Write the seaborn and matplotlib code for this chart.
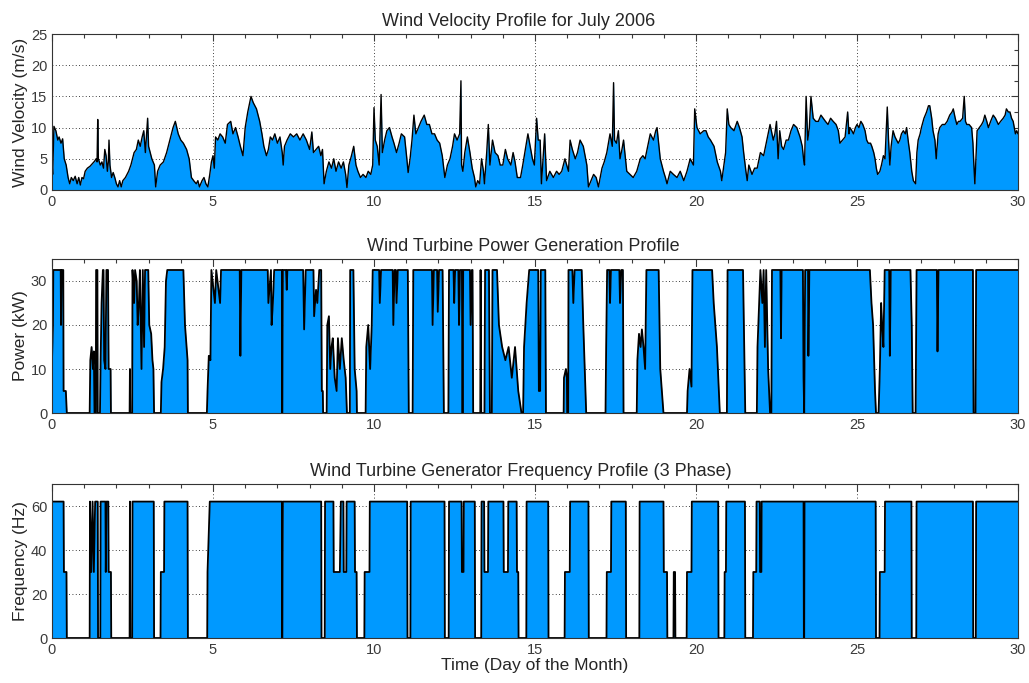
import matplotlib
matplotlib.use("Agg")
import matplotlib.pyplot as plt
from matplotlib.ticker import MultipleLocator
import numpy as np
import pandas as pd
import seaborn as sns

# ---------------- data ----------------
wind_day = [
    0.00, 0.02, 0.06, 0.12, 0.18, 0.22, 0.28, 0.33, 0.38, 0.44, 0.50, 0.55, 0.60, 0.66, 0.72, 0.78,
    0.83, 0.88, 0.93, 0.98, 1.03, 1.10, 1.18, 1.25, 1.32, 1.37, 1.40, 1.42, 1.44, 1.50, 1.55, 1.60,
    1.64, 1.68, 1.72, 1.75, 1.77, 1.80, 1.85, 1.90, 1.95, 2.00, 2.05, 2.10, 2.15, 2.20, 2.28, 2.38,
    2.45, 2.55, 2.62, 2.68, 2.74, 2.80, 2.85, 2.90, 2.97, 3.00, 3.05, 3.10, 3.18, 3.22, 3.28, 3.36,
    3.46, 3.56, 3.66, 3.76, 3.83, 3.92, 4.00, 4.08, 4.18, 4.26, 4.33, 4.40, 4.48, 4.53, 4.58, 4.66,
    4.72, 4.78, 4.84, 4.90, 4.95, 5.00, 5.04, 5.08, 5.15, 5.22, 5.30, 5.38, 5.45, 5.55, 5.62, 5.70,
    5.78, 5.85, 5.93, 6.00, 6.08, 6.18, 6.25, 6.35, 6.45, 6.52, 6.58, 6.66, 6.72, 6.78, 6.85, 6.92,
    7.00, 7.08, 7.15, 7.18, 7.22, 7.30, 7.40, 7.50, 7.60, 7.70, 7.80, 7.90, 8.00, 8.07, 8.12, 8.20,
    8.28, 8.35, 8.40, 8.45, 8.52, 8.60, 8.68, 8.75, 8.82, 8.90, 8.98, 9.05, 9.12, 9.16, 9.22, 9.30,
    9.37, 9.44, 9.50, 9.58, 9.66, 9.75, 9.82, 9.90, 9.96, 10.00, 10.04, 10.10, 10.16, 10.22, 10.26, 10.33,
    10.40, 10.48, 10.56, 10.62, 10.70, 10.78, 10.85, 10.95, 11.02, 11.06, 11.12, 11.18, 11.24, 11.30, 11.38, 11.46,
    11.56, 11.64, 11.72, 11.80, 11.88, 11.96, 12.04, 12.12, 12.20, 12.28, 12.36, 12.44, 12.50, 12.58, 12.66, 12.70,
    12.72, 12.76, 12.82, 12.90, 12.98, 13.05, 13.12, 13.16, 13.22, 13.28, 13.34, 13.40, 13.43, 13.50, 13.55, 13.60,
    13.68, 13.76, 13.85, 13.92, 14.00, 14.08, 14.15, 14.25, 14.32, 14.38, 14.45, 14.55, 14.62, 14.70, 14.78, 14.85,
    14.92, 14.98, 15.05, 15.10, 15.16, 15.20, 15.25, 15.30, 15.36, 15.46, 15.57, 15.67, 15.75, 15.83, 15.93, 16.04,
    16.09, 16.16, 16.25, 16.32, 16.40, 16.50, 16.61, 16.66, 16.74, 16.82, 16.90, 16.97, 17.08, 17.15, 17.23, 17.33,
    17.40, 17.44, 17.47, 17.53, 17.59, 17.64, 17.70, 17.75, 17.85, 17.95, 18.05, 18.16, 18.27, 18.35, 18.42, 18.50,
    18.58, 18.68, 18.75, 18.79, 18.85, 18.89, 18.99, 19.05, 19.10, 19.20, 19.30, 19.41, 19.51, 19.62, 19.72, 19.82,
    19.92, 19.96, 20.03, 20.13, 20.24, 20.31, 20.38, 20.45, 20.56, 20.66, 20.76, 20.80, 20.92, 20.97, 21.02, 21.08,
    21.18, 21.28, 21.35, 21.43, 21.48, 21.55, 21.59, 21.64, 21.74, 21.82, 21.90, 22.00, 22.10, 22.20, 22.30, 22.40,
    22.45, 22.50, 22.55, 22.60, 22.66, 22.72, 22.80, 22.87, 22.95, 23.03, 23.13, 23.23, 23.30, 23.34, 23.37, 23.42,
    23.47, 23.52, 23.57, 23.64, 23.72, 23.80, 23.88, 23.95, 24.02, 24.10, 24.18, 24.26, 24.35, 24.42, 24.47, 24.55,
    24.63, 24.71, 24.75, 24.78, 24.84, 24.89, 24.95, 25.00, 25.06, 25.12, 25.18, 25.25, 25.30, 25.35, 25.42, 25.46,
    25.52, 25.56, 25.60, 25.64, 25.71, 25.76, 25.82, 25.87, 25.94, 25.98, 26.02, 26.06, 26.12, 26.18, 26.23, 26.28,
    26.33, 26.38, 26.44, 26.50, 26.54, 26.60, 26.64, 26.70, 26.75, 26.82, 26.86, 26.90, 26.96, 27.00, 27.08, 27.16,
    27.22, 27.26, 27.32, 27.36, 27.42, 27.46, 27.52, 27.57, 27.65, 27.73, 27.80, 27.88, 27.95, 27.99, 28.05, 28.10,
    28.15, 28.20, 28.28, 28.33, 28.37, 28.41, 28.48, 28.56, 28.60, 28.63, 28.66, 28.70, 28.73, 28.80, 28.87, 28.92,
    28.97, 29.03, 29.08, 29.15, 29.23, 29.30, 29.39, 29.46, 29.54, 29.60, 29.64, 29.70, 29.75, 29.80, 29.85, 29.92,
    29.96, 30.00,
]
wind_speed = [
    4.5, 2.5, 10.2, 9.5, 8.0, 8.5, 7.5, 8.2, 5.0, 4.0, 2.0, 1.0, 2.0, 1.5, 2.2, 1.0,
    2.0, 0.8, 2.0, 1.8, 3.0, 3.5, 3.8, 4.2, 4.6, 5.0, 4.5, 11.3, 5.0, 4.0, 4.5, 3.5,
    6.5, 5.5, 3.0, 4.5, 8.0, 4.0, 2.0, 2.8, 2.0, 1.0, 0.5, 1.5, 0.5, 1.5, 2.0, 3.0,
    4.0, 6.0, 6.5, 8.0, 7.0, 8.5, 9.5, 6.0, 11.5, 7.0, 6.0, 5.0, 4.0, 0.5, 3.0, 4.0,
    4.5, 6.0, 8.0, 10.0, 11.0, 9.0, 8.0, 7.5, 6.5, 5.0, 2.0, 1.5, 1.0, 1.5, 0.5, 1.5,
    2.0, 1.0, 0.5, 2.5, 4.5, 5.5, 3.5, 8.5, 8.0, 9.0, 8.5, 7.5, 10.5, 11.0, 9.0, 10.0,
    8.5, 7.0, 5.5, 10.0, 12.5, 15.0, 14.0, 13.0, 11.0, 9.0, 7.0, 5.5, 6.5, 8.5, 8.0, 9.0,
    7.5, 8.5, 6.0, 4.0, 7.0, 8.0, 9.0, 8.5, 9.0, 8.0, 9.0, 8.0, 6.5, 9.3, 6.0, 6.5,
    7.0, 5.5, 6.5, 1.0, 3.0, 4.5, 3.5, 5.0, 3.0, 4.5, 3.5, 4.5, 2.5, 0.4, 4.0, 5.5,
    7.0, 4.0, 3.0, 2.0, 2.5, 2.0, 3.0, 2.5, 4.0, 13.2, 8.0, 7.0, 4.0, 15.3, 6.0, 8.0,
    9.5, 10.0, 8.5, 7.5, 6.0, 7.5, 9.0, 8.5, 5.0, 2.8, 5.0, 8.0, 12.0, 9.0, 10.0, 11.0,
    12.0, 10.5, 10.5, 9.0, 9.0, 8.0, 7.5, 5.5, 2.0, 4.0, 5.0, 7.0, 9.0, 8.0, 9.0, 17.5,
    4.0, 3.0, 6.0, 8.5, 6.0, 3.5, 2.0, 0.5, 1.5, 1.0, 5.0, 3.0, 1.0, 6.0, 10.5, 4.0,
    8.0, 6.0, 5.5, 4.0, 4.0, 6.5, 5.0, 4.0, 6.0, 4.5, 2.0, 2.0, 4.0, 6.5, 9.0, 7.0,
    5.0, 4.0, 11.5, 8.0, 8.0, 1.0, 5.0, 9.0, 1.5, 3.0, 2.0, 3.0, 2.5, 3.0, 5.0, 3.0,
    8.0, 6.5, 5.0, 6.0, 8.0, 7.0, 4.0, 0.5, 1.5, 2.5, 2.0, 0.5, 3.5, 4.5, 6.0, 9.0,
    7.0, 17.2, 8.0, 7.5, 9.5, 5.0, 6.5, 8.0, 3.0, 2.5, 2.0, 3.0, 5.0, 5.5, 5.0, 7.0,
    9.0, 8.0, 9.5, 10.0, 7.0, 5.0, 3.0, 2.0, 1.0, 3.0, 2.5, 2.0, 3.0, 1.5, 3.0, 5.0,
    4.0, 13.0, 10.0, 9.0, 9.5, 9.5, 8.5, 8.0, 7.0, 4.5, 3.0, 1.5, 6.0, 13.0, 10.5, 10.0,
    9.5, 11.0, 10.0, 8.5, 6.0, 3.0, 1.5, 4.0, 2.5, 3.5, 3.5, 6.0, 5.5, 8.0, 10.5, 8.0,
    9.0, 11.0, 5.0, 9.5, 7.0, 6.5, 8.0, 8.0, 9.5, 10.5, 10.0, 8.5, 7.0, 5.0, 4.0, 15.0,
    8.0, 10.0, 15.0, 11.5, 11.0, 11.0, 12.0, 11.5, 11.0, 10.5, 11.5, 11.0, 10.5, 9.5, 7.5, 8.0,
    8.5, 12.5, 9.0, 10.0, 9.5, 9.0, 10.0, 10.5, 10.0, 11.0, 10.5, 9.5, 8.0, 7.5, 7.5, 7.0,
    6.0, 5.0, 3.5, 2.5, 3.0, 4.0, 5.5, 5.0, 13.3, 8.0, 4.0, 7.0, 9.5, 8.5, 8.0, 7.5,
    8.0, 9.0, 9.5, 9.0, 10.0, 7.5, 6.0, 3.0, 1.5, 1.0, 6.0, 8.0, 9.0, 10.0, 11.5, 12.5,
    13.5, 13.5, 11.5, 9.5, 8.0, 5.0, 9.0, 10.0, 10.5, 10.5, 11.0, 12.0, 12.5, 13.0, 11.5, 10.5,
    11.0, 11.0, 11.5, 15.0, 11.0, 10.5, 10.5, 10.0, 7.5, 4.0, 1.0, 6.0, 9.5, 10.0, 10.5, 11.0,
    12.0, 11.0, 10.0, 11.0, 12.0, 11.5, 10.5, 11.0, 11.5, 12.0, 13.0, 12.5, 12.5, 11.5, 11.0, 9.0,
    9.5, 9.0,
]

power_day = [
    0.00, 0.03, 0.04, 0.27, 0.28, 0.30, 0.35, 0.36, 0.43, 0.46, 1.17, 1.19, 1.23, 1.27, 1.30, 1.32,
    1.36, 1.37, 1.41, 1.42, 1.49, 1.51, 1.54, 1.58, 1.60, 1.62, 1.66, 1.69, 1.74, 1.76, 1.82, 1.83,
    2.41, 2.42, 2.43, 2.49, 2.50, 2.55, 2.58, 2.63, 2.66, 2.70, 2.73, 2.78, 2.82, 2.86, 2.89, 2.99,
    3.02, 3.08, 3.12, 3.15, 3.17, 3.38, 3.40, 3.45, 3.50, 3.54, 3.58, 4.08, 4.13, 4.18, 4.21, 4.22,
    4.81, 4.83, 4.87, 4.92, 4.95, 5.06, 5.10, 5.22, 5.25, 5.83, 5.85, 5.88, 6.70, 6.72, 6.80, 6.82,
    6.86, 6.90, 7.14, 7.15, 7.17, 7.27, 7.29, 7.31, 7.80, 7.83, 7.88, 8.12, 8.14, 8.20, 8.24, 8.30,
    8.36, 8.38, 8.41, 8.42, 8.53, 8.55, 8.60, 8.64, 8.68, 8.72, 8.78, 8.84, 8.88, 8.94, 9.00, 9.06,
    9.12, 9.16, 9.25, 9.26, 9.36, 9.40, 9.46, 9.47, 9.74, 9.76, 9.82, 9.88, 9.93, 9.96, 10.16, 10.18,
    10.22, 10.58, 10.60, 10.64, 10.68, 10.70, 10.74, 11.05, 11.08, 11.20, 11.22, 11.80, 11.82, 11.86, 11.96, 11.98,
    12.02, 12.13, 12.17, 12.31, 12.33, 12.47, 12.49, 12.52, 12.62, 12.64, 12.67, 12.73, 12.75, 12.77, 12.98, 13.00,
    13.04, 13.06, 13.08, 13.30, 13.31, 13.33, 13.43, 13.45, 13.57, 13.60, 13.66, 13.68, 13.82, 13.88, 13.98, 14.08,
    14.18, 14.28, 14.38, 14.48, 14.58, 14.63, 14.66, 14.74, 14.82, 15.10, 15.12, 15.16, 15.18, 15.32, 15.34, 15.89,
    15.90, 15.96, 15.99, 16.00, 16.03, 16.04, 16.16, 16.19, 16.23, 16.45, 16.50, 16.59, 17.19, 17.21, 17.24, 17.31,
    17.33, 17.36, 17.62, 17.64, 17.68, 17.73, 17.75, 18.16, 18.18, 18.23, 18.28, 18.32, 18.37, 18.42, 18.46, 18.84,
    18.89, 18.94, 18.99, 19.72, 19.74, 19.80, 19.86, 19.89, 20.50, 20.55, 20.65, 20.74, 20.96, 20.98, 21.46, 21.53,
    21.89, 21.91, 21.96, 22.00, 22.06, 22.10, 22.14, 22.18, 22.24, 22.30, 22.34, 22.36, 22.62, 22.64, 22.66, 23.32,
    23.34, 23.36, 23.39, 23.48, 23.49, 23.52, 25.40, 25.45, 25.50, 25.56, 25.59, 25.67, 25.71, 25.75, 25.78, 25.82,
    25.86, 26.00, 26.02, 26.05, 26.66, 26.70, 26.73, 26.82, 26.85, 27.48, 27.50, 27.53, 28.60, 28.62, 28.68, 28.70,
    30.00,
]
power_kw = [
    12, 20, 32.5, 32.5, 20, 32.5, 32.5, 5, 5, 0, 0, 12, 15, 10, 14, 0,
    0, 32.5, 32.5, 0, 0, 12, 25, 32.5, 32.5, 12, 10, 32.5, 32.5, 10, 10, 0,
    0, 10, 0, 0, 32.5, 25, 32.5, 30, 20, 25, 32.5, 10, 32.5, 15, 32.5, 32.5,
    20, 18, 12, 10, 0, 0, 7, 10, 15, 30, 32.5, 32.5, 20, 15, 12, 0,
    0, 5, 13, 12, 32.5, 25, 32.5, 25, 32.5, 32.5, 13, 32.5, 32.5, 25, 32.5, 20,
    25, 32.5, 32.5, 0, 32.5, 32.5, 28, 32.5, 32.5, 19, 32.5, 32.5, 22, 28, 25, 32.5,
    32.5, 5, 5, 0, 0, 20, 22, 10, 15, 17, 8, 5, 17, 10, 17, 12,
    8, 0, 0, 32.5, 32.5, 10, 5, 0, 0, 15, 20, 10, 20, 32.5, 32.5, 25,
    32.5, 32.5, 20, 32.5, 32.5, 25, 32.5, 32.5, 0, 0, 32.5, 32.5, 20, 32.5, 32.5, 23,
    32.5, 32.5, 0, 0, 32.5, 32.5, 25, 32.5, 32.5, 20, 32.5, 32.5, 0, 32.5, 32.5, 20,
    32.5, 32.5, 0, 0, 32.5, 0, 0, 32.5, 32.5, 0, 0, 32.5, 32.5, 20, 15, 12,
    15, 8, 15, 5, 0, 0, 15, 25, 32.5, 32.5, 5, 5, 32.5, 32.5, 0, 0,
    8, 10, 8, 0, 0, 32.5, 32.5, 25, 32.5, 32.5, 20, 0, 0, 15, 32.5, 32.5,
    25, 32.5, 32.5, 25, 32.5, 32.5, 0, 0, 12, 18, 15, 19, 15, 10, 32.5, 32.5,
    10, 5, 0, 0, 5, 10, 6, 32.5, 32.5, 25, 15, 0, 0, 32.5, 32.5, 0,
    0, 15, 25, 32.5, 25, 32.5, 15, 32.5, 10, 0, 0, 32.5, 32.5, 17, 32.5, 32.5,
    8, 0, 32.5, 32.5, 13, 32.5, 32.5, 25, 20, 5, 0, 0, 10, 25, 20, 15,
    32.5, 32.5, 13, 32.5, 32.5, 20, 0, 0, 32.5, 32.5, 14, 32.5, 32.5, 0, 0, 32.5,
    32.5,
]

freq_day = [
    0.00, 0.36, 0.37, 0.45, 0.46, 1.17, 1.18, 1.22, 1.26, 1.30, 1.34, 1.42, 1.43, 1.50, 1.51, 1.66,
    1.67, 1.69, 1.75, 1.76, 1.83, 1.84, 2.41, 2.42, 2.43, 2.49, 2.50, 3.16, 3.17, 3.37, 3.38, 3.48,
    3.49, 4.21, 4.22, 4.82, 4.83, 4.90, 7.14, 7.15, 7.17, 8.36, 8.37, 8.47, 8.48, 8.74, 8.75, 8.94,
    8.97, 9.05, 9.06, 9.14, 9.15, 9.40, 9.41, 9.46, 9.47, 9.70, 9.71, 9.86, 9.87, 11.03, 11.04, 11.13,
    11.14, 12.19, 12.20, 12.32, 12.33, 12.72, 12.73, 12.78, 12.79, 13.13, 13.14, 13.33, 13.34, 13.42, 13.43, 13.54,
    13.55, 14.02, 14.03, 14.16, 14.17, 14.43, 14.44, 14.48, 14.49, 14.73, 14.74, 15.41, 15.42, 15.92, 15.93, 16.08,
    16.09, 16.66, 16.67, 17.22, 17.23, 17.36, 17.37, 17.82, 17.83, 18.24, 18.25, 18.99, 19.00, 19.10, 19.11, 19.30,
    19.31, 19.35, 19.36, 19.71, 19.72, 19.86, 19.87, 20.69, 20.70, 20.88, 20.89, 20.93, 20.94, 21.52, 21.53, 21.77,
    21.78, 21.87, 21.88, 21.98, 21.99, 22.03, 22.04, 23.34, 23.35, 23.36, 23.37, 25.58, 25.59, 25.70, 25.71, 25.86,
    25.87, 26.69, 26.70, 26.84, 26.85, 28.60, 28.61, 28.69, 28.70, 30.00,
]
freq_hz = [
    62, 62, 30, 30, 0, 0, 62, 30, 62, 30, 62, 62, 0, 0, 62, 62,
    30, 62, 62, 30, 30, 0, 0, 62, 0, 0, 62, 62, 0, 0, 30, 30,
    62, 62, 0, 0, 30, 62, 62, 0, 62, 62, 0, 0, 62, 62, 30, 30,
    62, 62, 30, 30, 62, 62, 30, 30, 0, 0, 30, 30, 62, 62, 0, 0,
    62, 62, 0, 0, 62, 62, 30, 30, 62, 62, 0, 0, 62, 62, 30, 30,
    62, 62, 30, 30, 62, 62, 30, 30, 0, 0, 62, 62, 0, 0, 30, 30,
    62, 62, 0, 0, 30, 30, 62, 62, 0, 0, 62, 62, 30, 30, 0, 0,
    30, 30, 0, 0, 30, 30, 62, 62, 0, 0, 30, 30, 62, 62, 0, 0,
    30, 30, 62, 62, 30, 30, 62, 62, 0, 0, 62, 62, 0, 0, 30, 30,
    62, 62, 0, 0, 62, 62, 0, 0, 62, 62,
]

panel_titles = [
    "Wind Velocity Profile for July 2006",
    "Wind Turbine Power Generation Profile",
    "Wind Turbine Generator Frequency Profile (3 Phase)",
]
panel_ylabels = ["Wind Velocity (m/s)", "Power (kW)", "Frequency (Hz)"]
x_label = "Time (Day of the Month)"

# ---------------- style ----------------
sns.set_style("white")
plt.rcParams["font.family"] = ["Liberation Sans", "DejaVu Sans"]

FILL = "#0099FF"
TICK_COLOR = "#3a3a3a"

fig = plt.figure(figsize=(10.29, 6.83), dpi=100)
W, H = 1029, 683
left, right = 52 / W, 1018 / W
boxes = [(34, 190), (259, 413), (484, 638)]
ylims = [(0, 25), (0, 35), (0, 70)]
ymajor = [5, 10, 20]
yminor = [2.5, 5, 10]
title_x = [0.483, 0.488, 0.485]
series = [
    (wind_day, wind_speed, 1.0),
    (power_day, power_kw, 1.3),
    (freq_day, freq_hz, 1.3),
]

for i, ((top, bot), (xs, ys, lw)) in enumerate(zip(boxes, series)):
    ax = fig.add_axes([left, 1 - bot / H, right - left, (bot - top) / H])
    df = pd.DataFrame({"day": xs, "value": ys})
    ax.fill_between(df["day"], df["value"], 0, color=FILL, linewidth=0, zorder=2)
    sns.lineplot(data=df, x="day", y="value", ax=ax, color="black",
                 linewidth=lw, estimator=None, sort=False, zorder=3)
    ax.set_xlim(0, 30)
    ax.set_ylim(*ylims[i])
    ax.xaxis.set_major_locator(MultipleLocator(5))
    ax.xaxis.set_minor_locator(MultipleLocator(1))
    ax.yaxis.set_major_locator(MultipleLocator(ymajor[i]))
    ax.yaxis.set_minor_locator(MultipleLocator(yminor[i]))
    ax.grid(True, which="major", color="black", linestyle=(0, (1, 3)),
            linewidth=0.6, zorder=1)
    ax.tick_params(which="both", direction="in", top=True, right=True,
                   colors=TICK_COLOR, labelsize=10.5, labelcolor=TICK_COLOR)
    ax.tick_params(which="major", length=5, width=0.8)
    ax.tick_params(which="minor", length=3, width=0.8)
    for sp in ax.spines.values():
        sp.set_color("#333333")
        sp.set_linewidth(0.8)
        sp.set_zorder(5)
    ax.set_title(panel_titles[i], fontsize=13, pad=6, x=title_x[i])
    ax.set_ylabel(panel_ylabels[i], fontsize=12.5, labelpad=2)
    if i == 2:
        ax.set_xlabel(x_label, fontsize=12.5, labelpad=1)
    else:
        ax.set_xlabel("")

fig.savefig("out.png", dpi=100)
